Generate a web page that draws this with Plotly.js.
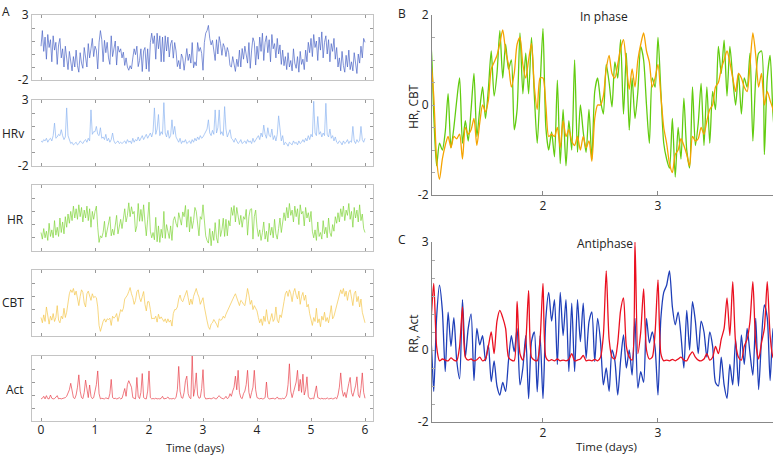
<!DOCTYPE html>
<html><head><meta charset="utf-8">
<script src="https://cdn.plot.ly/plotly-3.0.1.min.js"></script>
<style>html,body{margin:0;padding:0;background:#fff}#chart{width:775px;height:456px}</style>
</head><body><div id="chart"></div>
<script>
// Sampling step of every series, in days (0 .. 6 days)
const step = 0.025;

// RR interval (normalised)
const RR = [
0.6,1.8,0.2,1.3,-0.4,1.5,0.5,1.1,-0.6,1.4, 0.3,0.9,-0.8,0.7,1.2,-0.3,0.4,-1.0,0.6,-0.5, -1.2,0.2,-0.8,-1.3,-0.2,-1.0,0.3,-0.9,-1.4,0.1, -0.7,-1.1,0.5,-0.4,-1.0,0.8,-0.3,0.4,1.2,-0.2,
0.6,0.3,-1.15,0.9,1.8,1.1,-0.6,1.05,0.1,0.9, -0.3,-0.8,1.4,-0.2,0.6,1.0,-0.85,0.6,0.14,0.4, -0.3,0.14,-0.88,-0.3,-1.0,-1.25,-0.9,-1.15,-0.3,0.4, -0.05,0.6,-0.97,-0.5,0.4,-1.35,0.23,0.5,-1.16,0.4,
-1.35,0.88,1.6,0.8,1.4,-0.4,1.6,0.4,1.4,-0.6, 1.3,-0.6,1.4,0.23,1.3,-0.23,0.78,1.06,-0.32,0.88, 0.24,-0.97,-0.5,-1.15,0.0,-0.3,-1.25,-0.3,0.42,-0.5, 0.0,-0.7,0.88,-1.06,-0.6,-0.9,0.88,0.2,0.5,0.05,
-1.25,0.88,1.6,1.8,2.2,1.2,0.7,1.05,0.4,-0.5, 1.1,0.0,1.34,0.8,-0.1,0.8,0.5,-0.2,0.5,0.1, -0.9,-1.0,-0.2,-0.97,-1.34,-0.4,-0.97,0.3,-1.0,0.42, -0.4,0.6,-0.1,-0.7,0.88,-1.1,0.3,1.25,0.9,-0.85,
0.6,-0.4,1.3,0.2,1.6,-0.5,0.9,1.4,0.1,1.1, -0.6,1.5,0.4,0.8,-0.3,1.2,0.0,0.7,-0.8,0.3, -0.9,-0.2,-1.2,0.1,-1.0,-0.5,-1.3,0.4,-0.7,-1.1, -0.2,-1.4,0.2,-0.8,-0.4,-1.2,0.3,-0.6,0.9,0.1,
1.2,-0.2,1.5,0.5,1.0,-0.5,1.3,0.3,1.7,-0.3, 0.9,1.4,0.0,1.1,-0.6,0.8,0.2,1.2,-0.4,0.5, -1.0,-0.3,-1.3,0.2,-0.9,-1.4,-0.1,-1.0,0.3,-1.2, -0.6,-1.3,0.1,-0.8,-1.5,0.0,-0.7,0.6,-0.3,1.2,
0.9
];

// Heart-rate variability
const HRv = [
-0.1,-0.2,0.0,-0.1,0.1,-0.2,0.0,0.1,-0.1,0.3, 1.25,0.1,0.2,0.4,0.3,0.75,0.3,0.0,0.2,2.4, 0.3,-0.1,-0.3,-0.2,-0.4,-0.3,-0.2,-0.4,-0.3,-0.1, -0.2,-0.3,-0.1,0.0,-0.2,0.1,-0.1,2.25,0.4,0.6,
0.6,1.0,0.4,0.3,0.9,0.1,0.2,0.0,0.4,-0.1, 0.1,-0.2,0.0,0.5,-0.1,-0.3,-0.2,-0.1,-0.3,-0.2, -0.3,-0.2,-0.1,-0.3,0.0,-0.2,-0.1,-0.3,0.1,-0.2, 0.0,-0.1,0.2,-0.1,0.1,0.3,0.0,0.2,0.4,0.1,
0.3,0.5,0.2,0.6,2.4,0.4,0.8,1.9,0.3,0.6, 0.4,2.8,0.5,0.2,0.7,0.1,0.3,1.5,0.4,1.0, 0.2,0.0,-0.2,0.1,-0.3,-0.1,-0.2,0.0,-0.3,-0.2, -0.1,-0.3,0.0,-0.2,0.1,-0.1,0.2,0.0,0.3,0.1,
0.2,0.4,0.6,0.8,1.5,0.5,0.3,0.7,0.4,2.25, 0.5,0.9,2.25,0.4,0.6,0.3,2.5,0.8,0.2,0.5, 0.75,0.1,0.0,-0.2,0.1,-0.1,-0.3,-0.2,0.0,-0.3, -0.2,-0.1,-0.3,0.0,-0.2,-0.1,-0.3,0.1,-0.2,0.0,
0.1,0.3,0.0,0.5,0.2,1.1,0.4,0.1,0.9,0.3, 0.2,0.8,0.0,0.3,-0.1,0.4,1.8,0.5,-0.1,0.3, -0.4,-0.2,-0.3,-0.5,-0.2,-0.3,-0.4,-0.1,-0.3,-0.2, -0.4,-0.1,-0.3,-0.2,0.0,-0.2,0.1,-0.1,0.3,0.0,
0.4,0.2,2.9,0.5,0.3,1.75,0.4,0.6,0.2,0.5, 0.3,2.75,0.4,0.2,0.8,0.1,0.3,-0.1,0.2,-0.2, -0.3,-0.1,-0.2,-0.4,-0.1,-0.3,-0.2,0.0,-0.3,-0.1, -0.2,1.0,-0.1,-0.3,0.0,-0.2,-0.1,1.0,0.0,-0.2,
0.1
];

// Heart rate
const HR = [
-0.6,-1.1,-0.3,-1.0,-0.5,-1.2,0.1,-0.9,-0.4,-1.0, 0.3,-0.8,-0.2,-0.9,0.5,-0.6,0.2,-0.7,0.6,-0.2, 0.8,0.1,1.0,0.3,1.4,0.5,1.2,0.4,1.5,0.6, 1.3,0.2,1.1,0.5,1.4,0.3,1.2,-0.2,1.0,0.4,
1.0,1.4,-0.2,-1.35,-0.85,-1.0,-0.6,0.25,-0.95,-0.5, 0.1,0.6,-0.85,-0.35,-0.8,-0.1,0.7,-0.7,-0.1,0.4, -0.3,0.35,1.2,0.2,0.7,1.65,0.6,1.35,0.8,1.0, -0.55,-0.1,1.6,0.25,1.15,0.25,1.5,0.2,-0.85,0.4,
1.7,-0.5,-1.0,-0.6,-1.15,0.55,-1.3,-0.1,-1.35,-0.35, -1.0,1.0,-1.05,0.0,-0.6,-1.05,-0.1,-1.2,0.3,0.6, 0.1,-0.2,0.9,0.5,-0.04,0.96,0.6,1.45,-0.2,1.15, -0.56,0.6,-0.3,0.3,1.3,1.0,0.0,-0.85,0.6,0.4,
1.5,0.3,-0.85,-1.2,-1.4,-0.3,-1.6,-0.5,-1.2,0.15, -1.0,-1.4,0.4,-0.9,-0.4,0.48,-0.9,0.4,-0.85,0.3, -0.1,1.3,0.7,1.44,0.2,1.3,0.6,0.0,0.7,-0.2, 0.6,0.4,1.15,-0.8,0.6,1.15,1.2,-1.1,0.6,1.1,
-0.2,-0.9,-0.4,-1.2,-0.6,0.2,-1.1,-0.5,-1.3,0.1, -0.8,-0.2,-1.0,0.4,-0.7,-1.1,-0.3,0.5,-0.6,0.1, 0.9,0.3,1.3,0.5,1.6,0.7,1.1,0.2,1.4,0.6, 1.2,0.0,1.5,0.8,1.0,-0.1,1.3,0.5,0.9,0.2,
1.0,-0.5,-1.0,-0.4,-1.2,0.2,-0.9,-0.6,-1.1,0.3, -0.7,-0.2,-1.0,0.5,-0.6,-0.9,0.0,-0.5,0.6,0.1, 0.9,0.2,1.2,0.6,1.4,0.3,1.1,0.7,1.6,0.4, 1.0,-0.2,1.3,0.5,1.1,0.2,1.5,0.3,0.8,-0.3,
-0.6
];

// Core body temperature
const CBT = [
-0.6,-1.0,-0.4,-0.9,0.2,-0.7,-1.1,-0.5,-0.8,-0.3, -0.9,-0.6,0.3,-0.8,-1.0,-0.5,-0.7,0.1,-0.6,-0.2, 0.5,1.2,1.5,1.3,1.6,1.1,1.4,0.8,0.3,1.0, 1.5,1.3,0.5,0.2,1.2,1.4,1.1,0.7,1.2,0.9,
1.0,0.9,0.2,-1.2,-1.65,-1.2,-0.9,-0.7,-0.95,-0.7, -0.75,-0.65,-1.2,-0.5,-0.65,-0.55,-0.3,-0.9,-0.4,0.0, -0.15,0.1,0.8,0.95,1.1,1.37,1.67,1.2,0.9,0.4, 0.7,1.35,1.5,0.9,0.6,1.0,1.37,0.4,-0.1,0.6,
0.6,0.0,-0.7,-0.65,-0.7,-0.5,-0.95,-0.35,-0.7,-0.55, -0.8,-0.9,-0.7,-1.0,-0.7,-0.95,-0.8,-1.25,-0.3,0.0, 0.0,0.2,0.8,1.1,0.7,0.6,0.9,1.25,1.45,0.9, 0.35,0.8,0.4,1.0,1.35,1.6,1.2,0.95,0.4,0.6,
0.9,0.2,-0.5,-0.85,-1.3,-1.5,-1.1,-1.0,-0.75,-0.9, -1.1,-1.35,-0.7,-0.8,-0.75,-0.5,-0.65,-0.35,-0.1,0.0, 0.4,0.5,0.8,1.0,1.2,0.95,0.6,0.3,0.7,0.6, 0.4,0.3,0.9,1.6,1.1,0.4,0.7,0.0,0.3,0.1,
-0.1,-0.6,-1.0,-0.7,-1.2,-0.5,-0.9,0.0,-0.8,-1.1, -0.6,-0.3,-0.9,-0.7,0.2,-0.8,-1.0,-0.4,-0.6,-0.1, 0.6,1.2,1.4,1.0,1.5,1.2,0.6,1.3,1.6,1.1, 0.8,1.4,0.4,1.0,1.3,0.7,1.1,0.2,0.4,-0.3,
-0.8,-1.2,-0.6,-0.9,0.1,-1.0,-0.7,-1.3,-0.5,-0.8, -0.2,-0.9,-0.6,-1.0,-0.4,0.3,-0.7,-0.5,-0.1,0.3, 0.8,1.3,1.5,1.2,1.6,1.0,1.4,0.7,1.3,1.5, 0.9,0.3,1.2,1.4,0.6,1.0,0.2,0.8,-0.2,-0.6,
-1.0
];

// Activity
const Act = [
-0.3,-0.25,-0.1,-0.3,-0.05,-0.28,-0.3,0.0,-0.25,-0.3, -0.28,-0.2,-0.05,-0.3,-0.26,-0.3,-0.28,-0.25,-0.2,-0.1, 0.1,0.4,0.9,0.2,-0.2,-0.28,0.0,0.6,1.55,0.3, -0.2,-0.28,0.2,1.15,0.4,-0.2,0.77,-0.1,-0.28,-0.2,
0.3,0.8,1.85,0.1,-0.3,-0.25,-0.28,-0.3,-0.22,-0.28, -0.3,0.1,1.2,-0.2,-0.28,-0.25,-0.3,-0.27,-0.2,-0.3, -0.25,0.1,0.5,-0.1,0.8,1.1,0.9,0.6,-0.2,-0.28, -0.3,1.35,-0.1,-0.28,0.2,1.65,-0.2,-0.28,-0.3,0.3,
1.85,-0.2,-0.3,-0.27,-0.3,-0.25,-0.3,-0.28,-0.3,-0.26, -0.1,-0.3,-0.28,-0.25,-0.15,-0.3,-0.28,-0.3,-0.26,-0.3, -0.2,0.4,2.2,0.3,-0.2,-0.25,0.2,1.1,1.45,0.1, -0.2,-0.28,3.0,-0.1,0.5,1.7,0.0,-0.25,-0.2,0.5,
1.95,-0.1,-0.3,-0.28,-0.3,-0.26,-0.3,-0.25,-0.2,-0.28, -0.3,-0.15,-0.05,-0.2,-0.28,-0.3,-0.25,-0.1,-0.28,-0.2, 0.1,-0.1,0.3,0.6,1.45,0.4,1.9,0.2,-0.2,-0.28, 0.1,0.3,0.8,1.9,0.2,-0.25,0.2,0.6,1.9,0.4,
-0.2,-0.28,-0.3,-0.25,-0.3,-0.28,-0.2,1.0,-0.2,-0.3, -0.27,-0.3,-0.25,-0.3,-0.28,-0.15,-0.3,-0.28,-0.3,-0.25, -0.3,-0.2,0.0,0.8,2.4,0.3,-0.2,0.2,0.6,1.0, 1.9,0.3,1.2,0.2,1.6,0.0,0.4,1.4,-0.1,-0.28,
-0.3,-0.25,-0.3,0.1,0.7,-0.2,-0.28,-0.3,-0.25,-0.3, -0.28,-0.3,-0.22,-0.3,-0.28,-0.25,-0.3,-0.28,-0.2,-0.3, 0.0,0.6,1.7,0.4,-0.1,0.2,-0.2,0.5,0.9,1.35, 0.2,-0.1,0.3,0.7,1.4,0.0,-0.2,0.5,1.7,0.2,
-0.25
];

// Tick values / labels
const leftXTicks = [0, 1, 2, 3, 4, 5, 6];
const leftYTicks = [-2, -1, 0, 1, 2, 3];
const leftYText = ['-2', '', '', '', '', '3'];
const rightXTicks = [2, 3];
const bYTicks = [-2, -1.5, -1, -0.5, 0, 0.5, 1, 1.5, 2];
const bYText = ['-2', '', '', '', '0', '', '', '', '2'];
const cYTicks = [-2, -1.5, -1, -0.5, 0, 0.5, 1, 1.5, 2, 2.5, 3];
const cYText = ['-2', '', '', '', '0', '', '', '', '', '', '3'];

const times = RR.map((_, i) => Math.round(i * step * 1000) / 1000);

const W = 775, H = 456;
const px = v => v / W;
const py = v => 1 - v / H;
const FONT = 'Open Sans, Noto Sans, sans-serif';

const leftColors = ['#4a64c6', '#8db4f0', '#7fd43a', '#f3c54a', '#e8404a'];
const leftSeries = [RR, HRv, HR, CBT, Act];
const leftBoxes = [[15, 80], [100, 166], [185, 251], [270, 336], [356, 421]];

const data = [];
const layout = {
  width: W, height: H,
  margin: {l: 0, r: 0, t: 0, b: 0},
  paper_bgcolor: '#fff', plot_bgcolor: '#fff',
  showlegend: false,
  font: {family: FONT, size: 12, color: '#222'},
  annotations: []
};

leftSeries.forEach((ys, k) => {
  const n = k + 1;
  const xa = n === 1 ? 'x' : 'x' + n;
  const ya = n === 1 ? 'y' : 'y' + n;
  data.push({x: times, y: ys, xaxis: xa, yaxis: ya, type: 'scatter', mode: 'lines',
             line: {color: leftColors[k], width: 0.7}, hoverinfo: 'skip'});
  const [top, bot] = leftBoxes[k];
  layout['xaxis' + (n === 1 ? '' : n)] = {
    domain: [px(32), px(373)], range: [-0.167, 6.148], anchor: ya,
    showline: true, linecolor: '#c4c4c4', linewidth: 1, mirror: 'ticks',
    ticks: 'inside', ticklen: 3, tickcolor: '#999', tickvals: leftXTicks,
    showticklabels: n === 5, tickfont: {size: 12, color: '#222'}, ticklabelstandoff: -2,
    showgrid: false, zeroline: false, fixedrange: true
  };
  layout['yaxis' + (n === 1 ? '' : n)] = {
    domain: [py(bot), py(top)], range: [-2, 3], anchor: xa,
    showline: true, linecolor: '#c4c4c4', linewidth: 1, mirror: 'ticks',
    ticks: 'inside', ticklen: 3, tickcolor: '#999', tickvals: leftYTicks, ticktext: leftYText,
    showticklabels: n <= 2, tickfont: {size: 12, color: '#222'},
    showgrid: false, zeroline: false, fixedrange: true
  };
});

const smooth = {shape: 'spline', smoothing: 0.7};
// Panel B: in phase (HR, CBT)
data.push({x: times, y: HR, xaxis: 'x6', yaxis: 'y6', type: 'scatter', mode: 'lines', line: Object.assign({color: '#62cc10', width: 1.3}, smooth), hoverinfo: 'skip'});
data.push({x: times, y: CBT, xaxis: 'x6', yaxis: 'y6', type: 'scatter', mode: 'lines', line: Object.assign({color: '#f5a300', width: 1.3}, smooth), hoverinfo: 'skip'});
// Panel C: antiphase (RR, Act)
data.push({x: times, y: RR, xaxis: 'x7', yaxis: 'y7', type: 'scatter', mode: 'lines', line: Object.assign({color: '#1f3fb8', width: 1.3}, smooth), hoverinfo: 'skip'});
data.push({x: times, y: Act, xaxis: 'x7', yaxis: 'y7', type: 'scatter', mode: 'lines', line: Object.assign({color: '#ea1020', width: 1.3}, smooth), hoverinfo: 'skip'});

const rightX = (anchor) => ({
  domain: [px(432), px(773)], range: [1.035, 4.0], anchor: anchor,
  showline: true, linecolor: '#888', linewidth: 1, ticks: 'inside', ticklen: 4, tickcolor: '#888',
  tickvals: rightXTicks, tickfont: {size: 12, color: '#222'},
  showgrid: false, zeroline: false, fixedrange: true
});
layout.xaxis6 = rightX('y6');
layout.xaxis7 = rightX('y7');
layout.yaxis6 = {
  domain: [py(195), py(15)], range: [-2, 2], anchor: 'x6',
  showline: true, linecolor: '#888', linewidth: 1, ticks: 'inside', ticklen: 3, tickcolor: '#aaa',
  tickvals: bYTicks, ticktext: bYText, tickfont: {size: 12, color: '#222'},
  showgrid: false, zeroline: false, fixedrange: true
};
layout.yaxis7 = {
  domain: [py(422), py(242)], range: [-2, 3], anchor: 'x7',
  showline: true, linecolor: '#888', linewidth: 1, ticks: 'inside', ticklen: 3, tickcolor: '#aaa',
  tickvals: cYTicks, ticktext: cYText, tickfont: {size: 12, color: '#222'},
  showgrid: false, zeroline: false, fixedrange: true
};

const ann = (text, x, y, opts = {}) => Object.assign({
  text: text, x: px(x), y: py(y), xref: 'paper', yref: 'paper',
  showarrow: false, xanchor: 'center', yanchor: 'middle',
  font: {family: FONT, size: 12, color: '#222'}
}, opts);

layout.annotations.push(
  ann('A', 6, 12),
  ann('B', 402, 13),
  ann('C', 402, 239),
  ann('HRv', 26, 133, {xanchor: 'right'}),
  ann('HR', 26, 219, {xanchor: 'right'}),
  ann('CBT', 26, 302, {xanchor: 'right'}),
  ann('Act', 26, 389, {xanchor: 'right'}),
  ann('Time (days)', 195, 447, {font: {family: FONT, size: 11, color: '#222'}}),
  ann('Time (days)', 606, 446, {font: {family: FONT, size: 11.5, color: '#222'}}),
  ann('In phase', 604, 17),
  ann('Antiphase', 605, 243),
  ann('HR, CBT', 413, 107, {textangle: -90}),
  ann('RR, Act', 413, 334, {textangle: -90})
);

Plotly.newPlot('chart', data, layout, {displayModeBar: false, staticPlot: true});
</script></body></html>
